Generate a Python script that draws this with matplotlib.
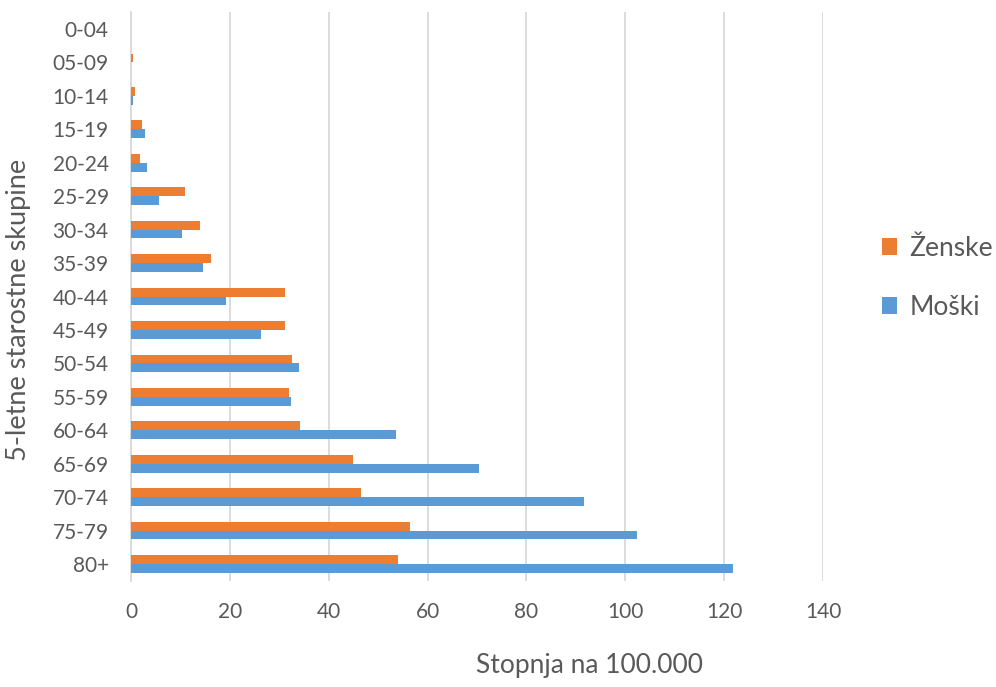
import matplotlib.pyplot as plt
import numpy as np

# age groups, top to bottom
age_groups = ['0-04', '05-09', '10-14', '15-19', '20-24', '25-29', '30-34', '35-39',
              '40-44', '45-49', '50-54', '55-59', '60-64', '65-69', '70-74', '75-79', '80+']
# rate per 100.000
zenske = [0.0, 0.4, 0.9, 2.2, 1.9, 10.9, 14.0, 16.2, 31.2, 31.2, 32.5, 32.0, 34.1, 45.0, 46.5, 56.4, 54.0]
moski = [0.0, 0.0, 0.4, 2.9, 3.3, 5.6, 10.4, 14.5, 19.3, 26.4, 34.0, 32.3, 53.7, 70.4, 91.7, 102.3, 121.7]
x_ticks = [0, 20, 40, 60, 80, 100, 120, 140]

plt.rcParams['font.family'] = ['Lato', 'DejaVu Sans']
text_color = '#595959'

fig = plt.figure(figsize=(9.96, 6.87), dpi=100)
ax = fig.add_axes([0.1315, 0.1547, 0.6948, 0.8274])

y = np.arange(len(age_groups))
h = 0.265
ax.barh(y - h / 2, zenske, height=h, color='#ED7D31', label='Ženske', zorder=3)
ax.barh(y + h / 2, moski, height=h, color='#5B9BD5', label='Moški', zorder=3)

ax.set_ylim(len(age_groups) - 0.5, -0.5)
ax.set_xlim(0, 140)
ax.set_yticks(y)
ax.set_yticklabels(age_groups)
ax.set_xticks(x_ticks)

ax.grid(axis='x', color='#d9d9d9', linewidth=1.3, zorder=0)
for s in ['top', 'right', 'bottom']:
    ax.spines[s].set_visible(False)
ax.spines['left'].set_color('#d9d9d9')
ax.spines['left'].set_linewidth(1.3)
ax.tick_params(length=0, labelsize=15, labelcolor=text_color)
ax.tick_params(axis='y', pad=16)
ax.tick_params(axis='x', pad=15)

# axis titles placed like in the original (not centred on the plot area)
fig.text(589 / 996, 1 - 666 / 687, 'Stopnja na 100.000', fontsize=19, color=text_color,
         ha='center', va='center')
fig.text(19 / 996, 1 - 310 / 687, '5-letne starostne skupine', fontsize=19.5, color=text_color,
         ha='center', va='center', rotation=90)

fig.legend(loc='center left', bbox_to_anchor=(882 / 996, 1 - 278 / 687), frameon=False,
           fontsize=19, labelcolor=text_color, handlelength=0.55, handleheight=0.62,
           handletextpad=0.5, labelspacing=1.3, borderpad=0, borderaxespad=0)

fig.savefig('out.png', dpi=100)
